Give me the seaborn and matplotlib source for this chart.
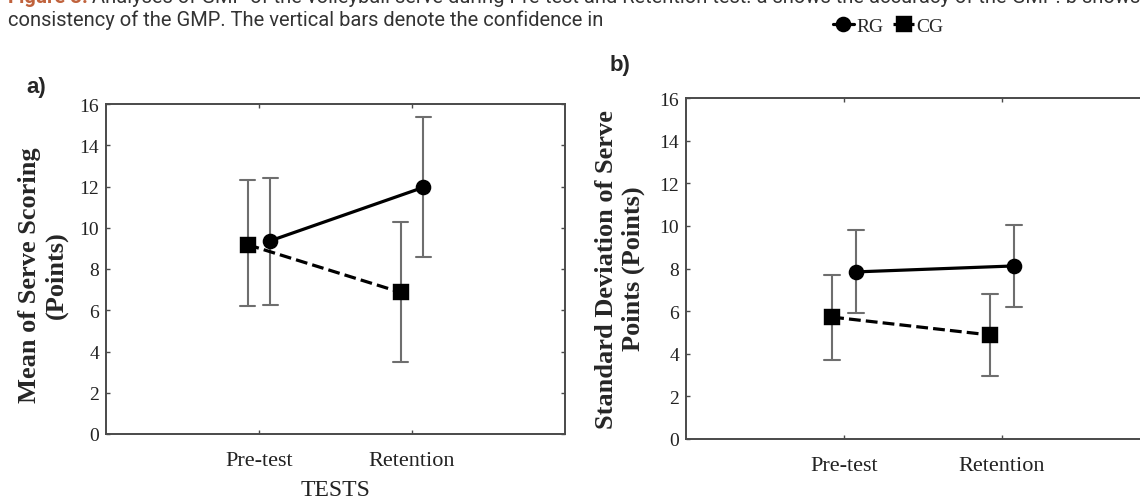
import numpy as np
import pandas as pd
import matplotlib
matplotlib.use("Agg")
import matplotlib.pyplot as plt
import seaborn as sns

# ---------------- data ----------------
tests = ["Pre-test", "Retention"]
groups = ["RG", "CG"]

# panel a: mean of serve scoring (points) with confidence interval bounds
a_rg_mean = [9.37, 11.96]
a_rg_low = [6.27, 8.57]
a_rg_high = [12.40, 15.35]
a_cg_mean = [9.18, 6.87]
a_cg_low = [6.22, 3.51]
a_cg_high = [12.32, 10.26]

# panel b: standard deviation of serve points with confidence interval bounds
b_rg_mean = [7.84, 8.12]
b_rg_low = [5.91, 6.19]
b_rg_high = [9.81, 10.04]
b_cg_mean = [5.72, 4.88]
b_cg_low = [3.71, 2.96]
b_cg_high = [7.70, 6.80]

y_ticks = [0, 2, 4, 6, 8, 10, 12, 14, 16]

caption_1_head = "Figure 3."
caption_1_rest = ("Analyses of GMP of the volleyball serve during Pre-test and Retention test. "
                  "a shows the accuracy of the GMP. b shows the")
caption_2 = "consistency of the GMP. The vertical bars denote the confidence in"


def build(rg_mean, rg_low, rg_high, cg_mean, cg_low, cg_high):
    # each point: low / mean / high -> median gives mean, (min, max) gives the interval
    rows = []
    for g, m, lo, hi in (("RG", rg_mean, rg_low, rg_high), ("CG", cg_mean, cg_low, cg_high)):
        for t, mm, l, h in zip(tests, m, lo, hi):
            for v in (l, mm, h):
                rows.append({"Test": t, "Group": g, "Value": v})
    return pd.DataFrame(rows)


df_a = build(a_rg_mean, a_rg_low, a_rg_high, a_cg_mean, a_cg_low, a_cg_high)
df_b = build(b_rg_mean, b_rg_low, b_rg_high, b_cg_mean, b_cg_low, b_cg_high)

# ---------------- style ----------------
sns.set_style("white")
plt.rcParams["font.family"] = ["Liberation Serif", "DejaVu Serif"]

W, H = 1140, 502
fig = plt.figure(figsize=(W / 100, H / 100), dpi=100)

ax_a = fig.add_axes([106 / W, (H - 435) / H, 459 / W, 330 / H])
ax_b = fig.add_axes([686 / W, (H - 440) / H, 474 / W, 341 / H])

err_grey = "#6e6e6e"


def draw(ax, df):
    sns.pointplot(
        data=df, x="Test", y="Value", hue="Group",
        order=tests, hue_order=["CG", "RG"],
        estimator="median", errorbar=lambda v: (np.min(v), np.max(v)),
        dodge=0.15, markers=["s", "o"], linestyles=["--", "-"],
        palette=["black", "black"], capsize=0.1,
        err_kws={"color": err_grey, "linewidth": 1.5},
        linewidth=2.3, markersize=10, ax=ax,
    )
    for ln in ax.lines:
        c = matplotlib.colors.to_hex(ln.get_color())
        if c == err_grey:
            ln.set_zorder(2)
        else:
            ln.set_zorder(3)
            if ln.get_marker() == "s":
                ln.set_markersize(10.5)
            else:
                ln.set_markersize(9.5)
    ax.set_xlim(-1, 2)
    ax.set_ylim(0, 16)
    ax.set_yticks(y_ticks)
    ax.set_xlabel("")
    for s in ax.spines.values():
        s.set_visible(True)
        s.set_color("#4a4a4a")
        s.set_linewidth(1.4)
    ax.tick_params(axis="both", which="both", direction="in", length=3, width=1,
                   color="#4a4a4a", top=True, right=True, bottom=True, left=True)
    ax.tick_params(axis="y", labelsize=14, pad=5, labelcolor="#222222")
    ax.tick_params(axis="x", labelsize=16, pad=12, labelcolor="#222222")


draw(ax_a, df_a)
draw(ax_b, df_b)

handles, labels = ax_a.get_legend_handles_labels()
hmap = dict(zip(labels, handles))
for ax in (ax_a, ax_b):
    if ax.get_legend() is not None:
        ax.get_legend().remove()

# axis labels
ax_a.set_ylabel("Mean of Serve Scoring\n(Points)", fontsize=19, fontweight="bold",
                linespacing=1.15, va="center", ha="center")
ax_a.yaxis.set_label_coords((43 - 106) / 459, 0.483)
ax_b.set_ylabel("Standard Deviation of Serve\nPoints (Points)", fontsize=19, fontweight="bold",
                linespacing=1.15, va="center", ha="center")
ax_b.yaxis.set_label_coords((620 - 686) / 474, 0.501)
ax_a.set_xlabel("TESTS", fontsize=17, labelpad=7, color="#222222")

# panel letters
fig.text(26 / W, 1 - 93 / H, "a)", family=["Liberation Sans"], fontweight="bold",
         fontsize=16, va="baseline", ha="left")
fig.text(610 / W, 1 - 71 / H, "b)", family=["Liberation Sans"], fontweight="bold",
         fontsize=16, va="baseline", ha="left")

# legend
fig.legend([hmap["RG"], hmap["CG"]], ["RG", "CG"], loc="center",
           bbox_to_anchor=(888 / W, 1 - 27 / H), ncol=2, frameon=False,
           handlelength=1.1, handletextpad=0.1, columnspacing=0.5,
           prop={"family": "Liberation Serif", "size": 14})

# caption (partly cut off at the top)
fig.text(8 / W, 1 - 3 / H, caption_1_head, family=["Roboto"], fontweight="bold",
         fontsize=14.5, color="#c0623c", va="baseline", ha="left")
fig.text(92 / W, 1 - 3 / H, caption_1_rest, family=["Roboto"],
         fontsize=14.5, color="#333333", va="baseline", ha="left")
fig.text(8 / W, 1 - 26 / H, caption_2, family=["Roboto"],
         fontsize=14.5, color="#333333", va="baseline", ha="left")

fig.savefig("out.png", dpi=100)
